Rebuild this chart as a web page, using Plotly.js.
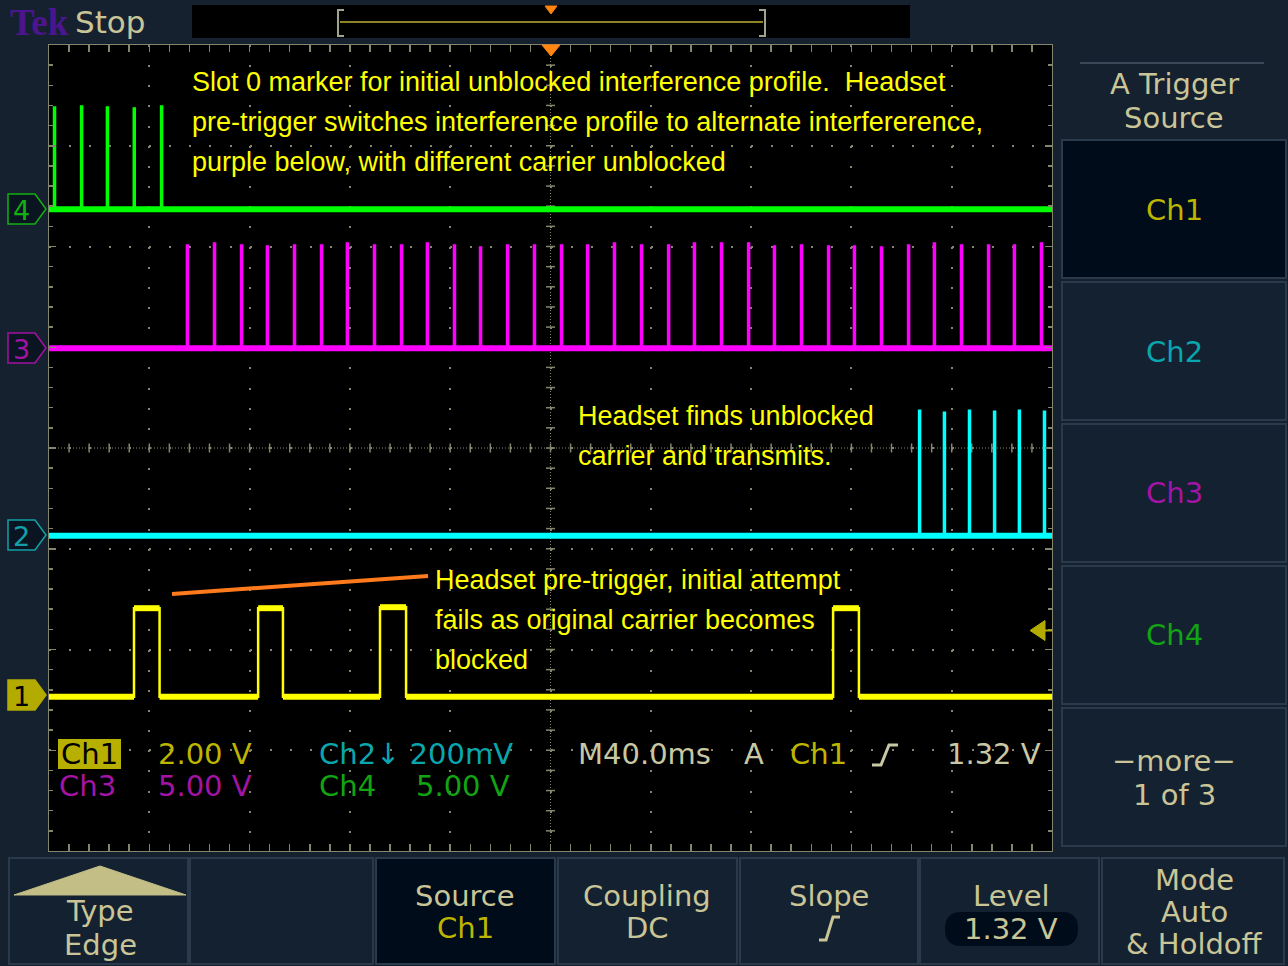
<!DOCTYPE html>
<html><head><meta charset="utf-8">
<script src="https://cdn.plot.ly/plotly-3.0.1.min.js"></script>
<style>html,body{margin:0;padding:0;background:#15212f;overflow:hidden}#chart{width:1288px;height:966px}</style>
</head><body><div id="chart"></div>
<script>
// Time axis: 40.0 ms/div, 10 divisions, trigger at centre (0 ms)
const timeWindowMs = [-200, 200];
// Ch1 (yellow) – headset pre-trigger pulses
const ch1PulseStartMs = [-166.1, -116.6, -68.0, 112.7];
const ch1PulseEndMs   = [-155.9, -106.7, -57.6, 123.0];
const ch1PulseVolts   = [1.76, 1.76, 1.78, 1.76];
// Ch2 (cyan) – headset transmissions on the unblocked carrier
const ch2SpikeMs    = [147.0, 156.9, 166.9, 176.9, 186.8, 196.8];
const ch2SpikeVolts = [0.248, 0.244, 0.248, 0.246, 0.248, 0.246];
// Ch3 (magenta) – alternate interference profile slot markers
const ch3SpikeMs = [-145.0, -134.2, -123.4, -113.1, -102.3, -91.5, -81.2, -70.4, -59.6, -49.3,
                    -38.5, -28.1, -17.3, -6.6, 4.2, 14.6, 25.3, 36.1, 46.9, 57.2,
                    68.0, 78.8, 89.1, 99.9, 110.7, 121.0, 131.8, 142.6, 152.9, 163.7,
                    174.5, 184.8, 195.6];
const ch3SpikeVolts = [5.1, 5.2, 5.1, 5.05, 5.1, 5.1, 5.2, 5.1, 5.1, 5.2,
                       5.1, 5.0, 5.1, 5.1, 5.1, 5.1, 5.2, 5.1, 5.1, 5.2,
                       5.2, 5.2, 5.05, 5.1, 5.05, 5.05, 5.0, 5.1, 5.2, 5.1,
                       5.1, 5.1, 5.2];
// Ch4 (green) – slot 0 marker for the initial interference profile
const ch4SpikeMs    = [-198.0, -187.2, -176.9, -166.2, -155.3];
const ch4SpikeVolts = [5.05, 5.1, 5.05, 5.0, 5.1];
// Channel settings (labels / vertical scale)
const channelLabels = ['Ch1', 'Ch2', 'Ch3', 'Ch4'];
const voltsPerDiv   = [2.00, 0.200, 5.00, 5.00];
const readoutScale  = ['2.00 V', '200mV', '5.00 V', '5.00 V'];
const timebaseLabel = 'M40.0ms';
const triggerLevelV = 1.32;
const triggerLevelLabel = '1.32 V';

// ================= GEOMETRY / STYLE =================
const scope = { posDiv: [-2.47, -0.87, 0.99, 2.37] };   // trace positions in divisions
const W = 1288, H = 966, PL = 49, PR = 1052, PT = 45, PB = 851;
const px = x => (x - PL) / (PR - PL);
const py = y => (PB - y) / (PB - PT);
const traceColors = ['#ffff00', '#00ffff', '#ff00ff', '#00ff00'];
const readColors  = ['#bdb500', '#0aa6ae', '#a414a4', '#12a412'];
const KHAKI = '#c9c597';
const GRID = '#85856e';
const UI = 'DejaVu Sans, Verdana, sans-serif';
const NOTE = 'Liberation Sans, Arial, sans-serif';

// ================= TRACES =================
function spikeWave(times, volts, w) {
  const x = [timeWindowMs[0]], y = [0];
  times.forEach((t, i) => { x.push(t, t, t + w, t + w); y.push(0, volts[i], volts[i], 0); });
  x.push(timeWindowMs[1]); y.push(0);
  return { x, y };
}
function pulseWave(starts, ends, volts) {
  const x = [timeWindowMs[0]], y = [0];
  starts.forEach((s, i) => { x.push(s, s, ends[i], ends[i]); y.push(0, volts[i], volts[i], 0); });
  x.push(timeWindowMs[1]); y.push(0);
  return { x, y };
}
function pulseLevels(starts, ends, volts) { // thick noisy levels, without the edges
  const x = [], y = [];
  let prev = timeWindowMs[0];
  starts.forEach((s, i) => {
    x.push(prev, s, null, s, ends[i], null); y.push(0, 0, null, volts[i], volts[i], null);
    prev = ends[i];
  });
  x.push(prev, timeWindowMs[1]); y.push(0, 0);
  return { x, y };
}
function band(axis, color, w) {
  return { type: 'scatter', mode: 'lines', x: timeWindowMs.slice(), y: [0, 0], yaxis: axis,
           line: { color, width: w }, hoverinfo: 'skip' };
}
function wave(obj, axis, color, w) {
  return { type: 'scatter', mode: 'lines', x: obj.x, y: obj.y, yaxis: axis,
           line: { color, width: w, shape: 'linear' }, connectgaps: false, hoverinfo: 'skip' };
}
const traces = [
  band('y5', traceColors[3], 6), wave(spikeWave(ch4SpikeMs, ch4SpikeVolts, 0.4), 'y5', traceColors[3], 2.5),
  band('y4', traceColors[2], 6), wave(spikeWave(ch3SpikeMs, ch3SpikeVolts, 0.4), 'y4', traceColors[2], 2.5),
  band('y3', traceColors[1], 6), wave(spikeWave(ch2SpikeMs, ch2SpikeVolts, 0.4), 'y3', traceColors[1], 2.5),
  wave(pulseLevels(ch1PulseStartMs, ch1PulseEndMs, ch1PulseVolts), 'y2', traceColors[0], 6),
  wave(pulseWave(ch1PulseStartMs, ch1PulseEndMs, ch1PulseVolts), 'y2', traceColors[0], 2.5)
];

function chanAxis(i) {
  const p = scope.posDiv[i], s = voltsPerDiv[i];
  return { overlaying: 'y', anchor: 'x', range: [(-4 - p) * s, (4 - p) * s], visible: false, fixedrange: true };
}

// ================= SHAPES =================
const shapes = [];
const P = (x, y) => px(x).toFixed(5) + ',' + py(y).toFixed(5);
function path(pts, close) { return 'M' + pts.map(p => P(p[0], p[1])).join('L') + (close ? 'Z' : ''); }
function rectPx(x0, y0, x1, y1, fill, line, lw) {
  shapes.push({ type: 'rect', xref: 'paper', yref: 'paper', x0: px(x0), x1: px(x1), y0: py(y1), y1: py(y0),
    fillcolor: fill, line: { color: line || fill, width: lw === undefined ? 0 : lw } });
}
function pathPx(pts, close, fill, line, lw) {
  shapes.push({ type: 'path', xref: 'paper', yref: 'paper', path: path(pts, close),
    fillcolor: fill || 'rgba(0,0,0,0)', line: { color: line || 'rgba(0,0,0,0)', width: lw || 0 } });
}

// graticule centre lines with fine ticks
shapes.push({ type: 'line', xref: 'x', yref: 'y', x0: 0, x1: 0, y0: -4, y1: 4, layer: 'below', line: { color: GRID, width: 1, dash: '1px,2px' } });
shapes.push({ type: 'line', xref: 'x', yref: 'y', x0: -200, x1: 200, y0: 0, y1: 0, layer: 'below', line: { color: GRID, width: 1, dash: '1px,2px' } });
for (let k = 1; k < 50; k++) {
  const t = -200 + k * 8;
  shapes.push({ type: 'line', xref: 'x', yref: 'y', x0: t, x1: t, y0: -0.045, y1: 0.045, layer: 'below', line: { color: GRID, width: 1.5 } });
}
for (let k = 1; k < 40; k++) {
  const v = -4 + k * 0.2;
  shapes.push({ type: 'line', xref: 'x', yref: 'y', x0: -1.8, x1: 1.8, y0: v, y1: v, layer: 'below', line: { color: GRID, width: 1.5 } });
}

// top status bar
rectPx(192, 5, 910, 38, '#000000');
pathPx([[340, 22], [763, 22]], false, null, '#8f8424', 2);
pathPx([[344, 10], [338, 10], [338, 36], [344, 36]], false, null, '#a3a38c', 2);
pathPx([[759, 10], [765, 10], [765, 36], [759, 36]], false, null, '#a3a38c', 2);
pathPx([[545, 6], [557, 6], [551, 14]], true, '#ff8410', '#ff8410', 1);
pathPx([[542, 45], [560, 45], [551, 56]], true, '#ff8410', '#ff8410', 1);

// channel ground markers
const markerY = [695, 535, 348, 209];
const markerLine = ['#b3ab00', '#12a0a8', '#a312a3', '#12b012'];
markerY.forEach((y, i) => {
  pathPx([[8, y - 15], [35, y - 15], [46, y], [35, y + 15], [8, y + 15]], true,
         i === 0 ? '#b3ab00' : '#0b1521', markerLine[i], 1.5);
});
// trigger level arrow (right edge)
const trigY = 697 - triggerLevelV / voltsPerDiv[0] * 100.75;
pathPx([[1030, trigY], [1045, trigY - 10], [1045, trigY + 10]], true, '#b3ab00', '#b3ab00', 1);
pathPx([[1045, trigY], [1052, trigY]], false, null, '#b3ab00', 2);

// user annotation line (orange)
pathPx([[172, 594], [428, 576]], false, null, '#ff7a1c', 4);

// readout Ch1 highlight box
rectPx(58, 739, 121, 769, '#b8b000');
// slope glyph in readout
pathPx([[872, 765], [881, 765], [889, 745], [898, 745]], false, null, '#c8c8a4', 3);

// right side menu
pathPx([[1080, 63], [1264, 63]], false, null, '#3c4858', 2);
const sideBtn = [[140, 278], [282, 420], [424, 562], [566, 704], [708, 846]];
sideBtn.forEach((b, i) => rectPx(1062, b[0], 1286, b[1], i === 0 ? '#000c19' : '#142131', '#2b3a4b', 2));
// bottom menu
const botBtn = [[9, 188], [190, 373], [376, 555], [558, 737], [740, 918], [920, 1099], [1102, 1284]];
botBtn.forEach((b, i) => rectPx(b[0], 858, b[1], 964, i === 2 ? '#000c19' : '#142131', '#2b3a4b', 2));
pathPx([[14, 895], [186, 895], [100, 866]], true, '#c2be86', '#c2be86', 1);
// slope glyph on bottom button
pathPx([[819, 940], [826, 940], [833, 917], [840, 917]], false, null, KHAKI, 3);
// level pill
const r = 16, lx0 = 945, lx1 = 1078, ly0 = 912, ly1 = 946;
shapes.push({ type: 'path', xref: 'paper', yref: 'paper', fillcolor: '#000c19', line: { width: 0, color: 'rgba(0,0,0,0)' },
  path: 'M' + P(lx0 + r, ly0) + 'L' + P(lx1 - r, ly0) + 'Q' + P(lx1, ly0) + ' ' + P(lx1, (ly0 + ly1) / 2) +
        'Q' + P(lx1, ly1) + ' ' + P(lx1 - r, ly1) + 'L' + P(lx0 + r, ly1) + 'Q' + P(lx0, ly1) + ' ' + P(lx0, (ly0 + ly1) / 2) +
        'Q' + P(lx0, ly0) + ' ' + P(lx0 + r, ly0) + 'Z' });

// ================= TEXT =================
const ann = [];
function T(text, x, y, size, color, anchor, family, weight) {
  ann.push({ text, x: px(x), y: py(y), xref: 'paper', yref: 'paper', xanchor: anchor || 'center', yanchor: 'middle',
    showarrow: false, borderpad: 0, font: { family: family || UI, size, color, weight: weight || 'normal' } });
}
// notes
T('Slot 0 marker for initial unblocked interference profile.\u00a0 Headset', 191, 82, 27, '#ffff00', 'left', NOTE);
T('pre-trigger switches interference profile to alternate interfererence,', 191, 122, 27, '#ffff00', 'left', NOTE);
T('purple below, with different carrier unblocked', 191, 162, 27, '#ffff00', 'left', NOTE);
T('Headset finds unblocked', 577, 416, 27, '#ffff00', 'left', NOTE);
T('carrier and transmits.', 577, 456, 27, '#ffff00', 'left', NOTE);
T('Headset pre-trigger, initial attempt', 434, 580, 27, '#ffff00', 'left', NOTE);
T('fails as original carrier becomes', 434, 620, 27, '#ffff00', 'left', NOTE);
T('blocked', 434, 660, 27, '#ffff00', 'left', NOTE);
// header
T('Tek', 9, 22, 37, '#4b1590', 'left', 'Liberation Serif, serif', 'bold');
T('Stop', 74, 22, 31, KHAKI, 'left');
// channel marker numbers
['1', '2', '3', '4'].forEach((n, i) => T(n, 21, markerY[i] + 1, 27, i === 0 ? '#000000' : markerLine[i], 'center'));
// readouts
T(channelLabels[0], 60, 754, 29, '#000000', 'left');
T(readoutScale[0], 157, 754, 29, readColors[0], 'left');
T(channelLabels[1] + '\u2193 ' + readoutScale[1], 318, 754, 29, readColors[1], 'left');
T(channelLabels[2], 58, 786, 29, readColors[2], 'left');
T(readoutScale[2], 157, 786, 29, readColors[2], 'left');
T(channelLabels[3], 318, 786, 29, readColors[3], 'left');
T(readoutScale[3], 415, 786, 29, readColors[3], 'left');
T(timebaseLabel, 577, 754, 29, '#c8c8a4', 'left');
T('A', 743, 754, 29, '#c8c8a4', 'left');
T('Ch1', 789, 754, 29, readColors[0], 'left');
T(triggerLevelLabel, 1042, 754, 29, '#c8c8a4', 'right');
// right menu
T('A Trigger', 1174, 84, 29, KHAKI);
T('Source', 1174, 118, 29, KHAKI);
T('Ch1', 1174, 210, 29, readColors[0]);
T('Ch2', 1174, 352, 29, readColors[1]);
T('Ch3', 1174, 493, 29, readColors[2]);
T('Ch4', 1174, 635, 29, readColors[3]);
T('\u2212more\u2212', 1174, 761, 29, KHAKI);
T('1 of 3', 1174, 795, 29, KHAKI);
// bottom menu
T('Type', 100, 911, 29, KHAKI);
T('Edge', 100, 945, 29, KHAKI);
T('Source', 465, 896, 29, KHAKI);
T('Ch1', 465, 928, 29, readColors[0]);
T('Coupling', 647, 896, 29, KHAKI);
T('DC', 647, 928, 29, KHAKI);
T('Slope', 829, 896, 29, KHAKI);
T('Level', 1011, 896, 29, KHAKI);
T(triggerLevelLabel, 1011, 929, 29, KHAKI);
T('Mode', 1194, 880, 29, KHAKI);
T('Auto', 1194, 912, 29, KHAKI);
T('& Holdoff', 1194, 944, 29, KHAKI);

// ================= LAYOUT =================
const common = { showticklabels: false, zeroline: false, showline: true, linecolor: GRID, linewidth: 1,
  mirror: 'allticks', ticks: 'inside', ticklen: 7, tickcolor: GRID, tickwidth: 1.5, showgrid: true,
  gridcolor: GRID, gridwidth: 2, fixedrange: true };
const layout = {
  width: W, height: H, margin: { l: PL, r: W - PR, t: PT, b: H - PB, pad: 0 },
  paper_bgcolor: '#15212f', plot_bgcolor: '#000000', showlegend: false, hovermode: false,
  xaxis: Object.assign({}, common, { range: timeWindowMs.slice(), dtick: 40, tick0: 0, griddash: '2px,18.15px',
    minor: { dtick: 8, tick0: 0, ticks: 'inside', ticklen: 4, tickcolor: GRID, tickwidth: 1.5, showgrid: false } }),
  yaxis: Object.assign({}, common, { range: [-4, 4], dtick: 1, tick0: 0, griddash: '2px,18.06px',
    minor: { dtick: 0.2, tick0: 0, ticks: 'inside', ticklen: 4, tickcolor: GRID, tickwidth: 1.5, showgrid: false } }),
  yaxis2: chanAxis(0), yaxis3: chanAxis(1), yaxis4: chanAxis(2), yaxis5: chanAxis(3),
  shapes, annotations: ann
};
Plotly.newPlot('chart', traces, layout, { staticPlot: true, displayModeBar: false });
</script></body></html>
